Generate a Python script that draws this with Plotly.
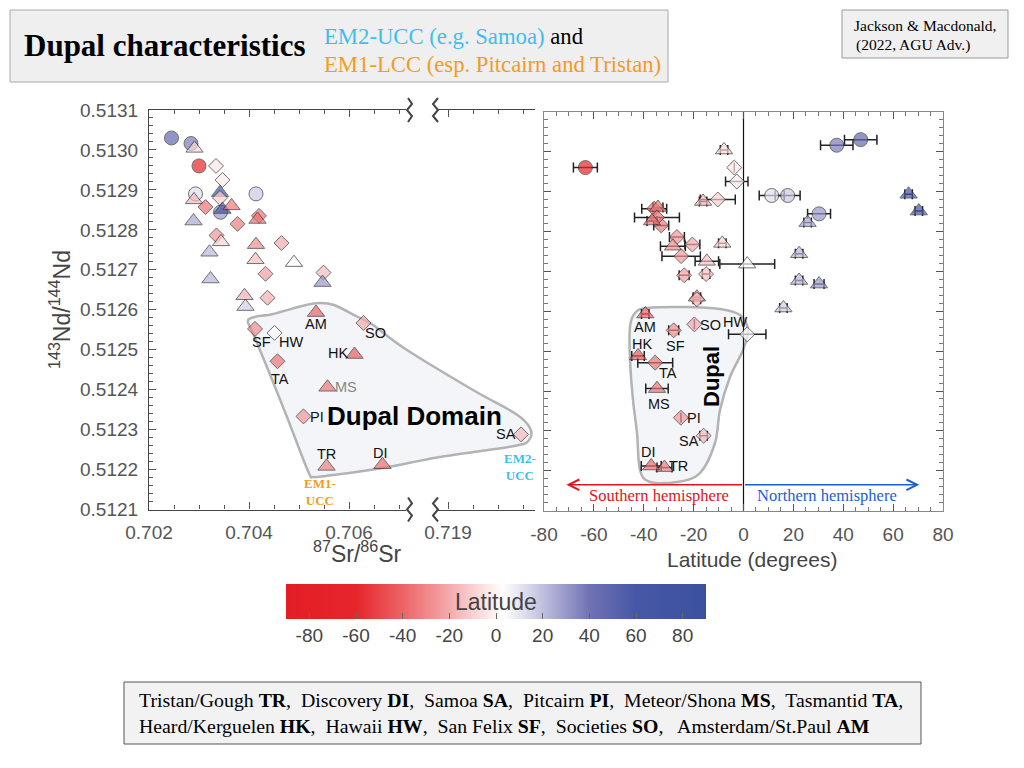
import plotly.graph_objects as go

W, H = 1024, 768


def X(p):
    return p / W


def Y(p):
    return 1 - p / H


# ---------------- data ----------------
sample_code = ["", "", "", "", "", "", "", "", "", "", "", "", "", "", "", "", "", "",
               "", "", "", "", "", "", "", "", "", "", "", "", "", "", "", "",
               "AM", "SO", "SF", "HW", "HK", "TA", "MS", "PI", "SA", "TR", "DI"]
sr_8786 = [0.70245, 0.70284, 0.70291, 0.70300, 0.70334, 0.70347, 0.70293, 0.70414,
           0.70290, 0.70342, 0.70342, 0.70313, 0.70343, 0.70347, 0.70365, 0.70377,
           0.70289, 0.70420, 0.70417, 0.70335, 0.70344, 0.70321, 0.70414, 0.70465,
           0.70413, 0.70490, 0.70323, 0.70433, 0.70549, 0.70547, 0.70391, 0.70437,
           0.70393, None,
           0.70534, 0.70629, 0.70412, 0.70451, 0.70611, 0.70457, 0.70557, 0.70509,
           0.72046, 0.70555, 0.70667]
nd_143144 = [0.513030, 0.513016, 0.513004, 0.512960, 0.512960, 0.512925, 0.512890, 0.512890,
             0.512875, 0.512893, 0.512880, 0.512857, 0.512844, 0.512851, 0.512860, 0.512815,
             0.512822, 0.512835, 0.512826, 0.512786, 0.512770, 0.512744, 0.512763, 0.512767,
             0.512725, 0.512718, 0.512677, 0.512690, 0.512693, 0.512668, 0.512635, 0.512630,
             0.512608, 0.512738,
             0.512593, 0.512567, 0.512552, 0.512542, 0.512488, 0.512471, 0.512406, 0.512333,
             0.512288, 0.512208, 0.512212]
latitude = [47.0, 37.4, -7.8, -63.4, -3.7, -2.7, 11.3, 17.7,
            -16.2, 66.2, -10.3, -35.8, 30.3, 70.3, -34.3, -33.0,
            25.7, -34.7, -36.7, -26.7, -8.5, 22.3, -28.3, -20.5,
            -14.7, 1.5, 22.3, -23.8, -15.0, 30.3, -18.7, -18.7,
            16.0, -25.0,
            -39.4, -19.7, -28.0, 1.5, -42.3, -35.4, -34.7, -25.1,
            -16.0, -31.7, -37.0]
latitude_err = [6.5, 6.5, 1.5, 4.8, 0, 4.5, 5.0, 5.0,
                1.5, 1.5, 7.0, 5.0, 4.6, 1.5, 2.0, 3.0,
                1.5, 9.0, 2.0, 3.0, 1.5, 1.5, 5.0, 3.0,
                4.7, 11.0, 1.5, 2.0, 1.5, 2.0, 1.5, 1.5,
                1.5, 7.7,
                1.5, 0, 2.0, 7.5, 2.5, 7.0, 4.5, 0,
                1.5, 3.0, 4.0]
marker_kind = ["circle", "circle", "triangle-up", "circle", "diamond", "diamond", "circle", "circle",
               "triangle-up", "triangle-up", "diamond", "diamond", "circle", "triangle-up", "triangle-up", "diamond",
               "triangle-up", "diamond", "triangle-up", "diamond", "triangle-up", "triangle-up", "triangle-up", "diamond",
               "triangle-up", "triangle-up", "triangle-up", "diamond", "diamond", "triangle-up", "triangle-up", "diamond",
               "triangle-up", "diamond",
               "triangle-up", "diamond", "diamond", "diamond", "triangle-up", "diamond", "triangle-up", "diamond",
               "diamond", "triangle-up", "triangle-up"]

y_ticks = [0.5121, 0.5122, 0.5123, 0.5124, 0.5125, 0.5126, 0.5127, 0.5128, 0.5129, 0.5130, 0.5131]
sr_ticks_left = [0.702, 0.704, 0.706]
sr_ticks_right = [0.719]
lat_ticks = [-80, -60, -40, -20, 0, 20, 40, 60, 80]

# ---------------- styles ----------------
SANS = "Liberation Sans, Arial, sans-serif"
SERIF = "Liberation Serif, Times New Roman, serif"
size_of = {"circle": 14, "triangle-up": 15, "diamond": 11.5}
colorscale = [
    [0.0, "#e41d25"], [0.1667, "#e6262c"], [0.2778, "#ec6466"], [0.3889, "#f4aaac"],
    [0.4722, "#fbe3e3"], [0.5167, "#ffffff"], [0.6111, "#c0c0df"], [0.7222, "#7072b4"],
    [0.8333, "#4757a5"], [1.0, "#3a51a0"],
]
mk_line = dict(color="#333333", width=1)

fig = go.Figure()

n = len(nd_143144)
left_idx = [i for i in range(n) if sr_8786[i] is not None and sr_8786[i] < 0.71]
right_idx = [i for i in range(n) if sr_8786[i] is not None and sr_8786[i] > 0.71]


def pick(arr, idx):
    return [arr[i] for i in idx]


for idx, xa in ((left_idx, "x"), (right_idx, "x2")):
    fig.add_trace(go.Scatter(
        x=pick(sr_8786, idx), y=pick(nd_143144, idx), mode="markers",
        xaxis=xa, yaxis="y", showlegend=False, cliponaxis=False,
        marker=dict(symbol=pick(marker_kind, idx), size=[size_of[s] for s in pick(marker_kind, idx)],
                    color=pick(latitude, idx), coloraxis="coloraxis", line=mk_line),
    ))

fig.add_trace(go.Scatter(
    x=latitude, y=nd_143144, mode="markers", xaxis="x3", yaxis="y2", showlegend=False,
    error_x=dict(type="data", array=[e if e > 0 else None for e in latitude_err],
                 color="#222222", thickness=1.5, width=5),
    marker=dict(symbol=marker_kind, size=[size_of[s] for s in marker_kind],
                color=latitude, coloraxis="coloraxis", line=mk_line),
))

# ---------------- axes ----------------
common = dict(showgrid=False, zeroline=False, ticks="inside", ticklen=7, tickwidth=1,
              tickcolor="#555", showline=True, linewidth=1.2, automargin=False,
              tickfont=dict(family=SANS, size=19, color="#555"))

fig.update_layout(
    width=W, height=H, margin=dict(l=0, r=0, t=0, b=0, pad=0, autoexpand=False),
    paper_bgcolor="white", plot_bgcolor="rgba(0,0,0,0)",
    xaxis=dict(domain=[X(149), X(406)], range=[0.702, 0.70714], anchor="y",
               tickvals=sr_ticks_left, ticktext=[f"{v:.3f}" for v in sr_ticks_left],
               mirror="ticks", linecolor="#444", ticklabelstandoff=6,
               minor=dict(dtick=0.0005, tick0=0.702, ticks="inside", ticklen=4, tickcolor="#555"),
               **common),
    xaxis2=dict(domain=[X(438), X(535)], range=[0.7188, 0.72074], anchor="y",
                tickvals=sr_ticks_right, ticktext=[f"{v:.3f}" for v in sr_ticks_right],
                mirror="ticks", linecolor="#444", ticklabelstandoff=6,
                minor=dict(dtick=0.0005, tick0=0.719, ticks="inside", ticklen=4, tickcolor="#555"),
                **common),
    yaxis=dict(domain=[Y(509.5), Y(110)], range=[0.5121, 0.5131], anchor="x",
               tickvals=y_ticks, ticktext=[f"{v:.4f}" for v in y_ticks],
               linecolor="#444", ticklabelstandoff=6,
               minor=dict(dtick=0.00002, tick0=0.5121, ticks="inside", ticklen=4, tickcolor="#555"),
               **common),
    xaxis3=dict(domain=[X(544), X(943)], range=[-80, 80], anchor="y2",
                tickvals=lat_ticks, ticktext=[str(v) for v in lat_ticks],
                mirror="ticks", linecolor="#888", ticklabelstandoff=6,
                minor=dict(dtick=5, tick0=0, ticks="inside", ticklen=4, tickcolor="#777"),
                **common),
    yaxis2=dict(domain=[Y(510.7), Y(111.7)], range=[0.5121, 0.5131], anchor="x3",
                tickvals=y_ticks, showticklabels=False, mirror="ticks", linecolor="#888",
                minor=dict(dtick=0.00002, tick0=0.5121, ticks="inside", ticklen=4, tickcolor="#777"),
                **common),
    coloraxis=dict(
        cmin=-90, cmax=90, colorscale=colorscale,
        colorbar=dict(orientation="h", x=X(496), xanchor="center", len=420 / W, lenmode="fraction",
                      y=Y(584), yanchor="top", thickness=35, thicknessmode="pixels",
                      xpad=0, ypad=0, outlinewidth=0, ticks="inside", ticklen=6, tickcolor="#666",
                      tickvals=lat_ticks, ticktext=[str(v) for v in lat_ticks],
                      tickfont=dict(family=SANS, size=19, color="#444")),
    ),
)

# ---------------- shapes ----------------
shapes = []


def smooth_path(pts):
    m = len(pts)
    d = f"M{X(pts[0][0]):.5f},{Y(pts[0][1]):.5f}"
    for i in range(m):
        p0, p1, p2, p3 = pts[i - 1], pts[i], pts[(i + 1) % m], pts[(i + 2) % m]
        c1 = (p1[0] + (p2[0] - p0[0]) / 6, p1[1] + (p2[1] - p0[1]) / 6)
        c2 = (p2[0] - (p3[0] - p1[0]) / 6, p2[1] - (p3[1] - p1[1]) / 6)
        d += (f" C{X(c1[0]):.5f},{Y(c1[1]):.5f} {X(c2[0]):.5f},{Y(c2[1]):.5f}"
              f" {X(p2[0]):.5f},{Y(p2[1]):.5f}")
    return d + " Z"


def poly_path(pts):
    return "M" + " L".join(f"{X(a):.5f},{Y(b):.5f}" for a, b in pts)


# boxes
shapes.append(dict(type="rect", xref="paper", yref="paper", x0=X(10), x1=X(668), y0=Y(82), y1=Y(10),
                   fillcolor="#efefef", line=dict(color="#aaaaaa", width=1), layer="below"))
shapes.append(dict(type="rect", xref="paper", yref="paper", x0=X(842), x1=X(1008), y0=Y(58), y1=Y(10),
                   fillcolor="#f0f0f0", line=dict(color="#999999", width=1), layer="below"))
shapes.append(dict(type="rect", xref="paper", yref="paper", x0=X(124), x1=X(921), y0=Y(744), y1=Y(682),
                   fillcolor="#f2f2f2", line=dict(color="#555555", width=1), layer="below"))

# Dupal domain outlines
left_dupal = [(249, 319), (273, 314), (306, 305), (320, 303), (334, 305), (356, 316), (373, 325),
              (407, 350), (473, 390), (516, 414), (530, 428), (529, 440), (514, 446), (440, 457),
              (383, 468), (333, 475), (314, 477), (308, 471), (287, 417), (267, 367), (253, 333)]
right_dupal = [(635, 313), (647, 308), (687, 307), (720, 309), (740, 315), (748, 330), (743, 350),
               (730, 377), (720, 410), (715, 443), (700, 473), (677, 482), (650, 482), (640, 470),
               (637, 433), (633, 400), (630, 360), (630, 327)]
for pts in (left_dupal, right_dupal):
    shapes.append(dict(type="path", xref="paper", yref="paper", path=smooth_path(pts),
                       fillcolor="#f3f5f8", line=dict(color="#b3b3b3", width=2.5), layer="below"))

# axis break marks
for yb in (110, 509.5):
    zl = [(408, yb - 12), (412, yb - 6), (407, yb), (412, yb + 6), (408, yb + 12)]
    zr = [(438, yb - 12), (433, yb - 6), (438, yb), (433, yb + 6), (438, yb + 12)]
    for z in (zl, zr):
        shapes.append(dict(type="path", xref="paper", yref="paper", path=poly_path(z),
                           line=dict(color="#444444", width=2)))

# equator line
shapes.append(dict(type="line", xref="x3", yref="y2 domain", x0=0, x1=0, y0=0, y1=1,
                   line=dict(color="#111111", width=1.2), layer="below"))

fig.update_layout(shapes=shapes)

# ---------------- annotations ----------------
ann = []


def txt(x, y, text, size, color="#000", family=SANS, xanchor="center", **kw):
    ann.append(dict(xref="paper", yref="paper", x=X(x), y=Y(y), text=text, showarrow=False,
                    xanchor=xanchor, yanchor="middle",
                    font=dict(family=family, size=size, color=color), **kw))


txt(22, 45, "<b>Dupal characteristics</b>", 31, family=SERIF, xanchor="left")
txt(322, 36, "<span style='color:#3cbfef'>EM2-UCC (e.g. Samoa)</span> and", 22.7, family=SERIF, xanchor="left")
txt(322, 64, "EM1-LCC (esp. Pitcairn and Tristan)", 22.7, color="#f39c1f", family=SERIF, xanchor="left")
txt(925, 25, "Jackson &amp; Macdonald,", 15.5, family=SERIF)
txt(913, 45, "(2022, AGU Adv.)", 15.5, family=SERIF)
txt(137, 713, "Tristan/Gough <b>TR</b>,  Discovery <b>DI</b>,  Samoa <b>SA</b>,  Pitcairn <b>PI</b>,  "
              "Meteor/Shona <b>MS</b>,  Tasmantid <b>TA</b>,<br>"
              "Heard/Kerguelen <b>HK</b>,  Hawaii <b>HW</b>,  San Felix <b>SF</b>,  Societies <b>SO</b>,   "
              "Amsterdam/St.Paul <b>AM</b>", 19.8, family=SERIF, xanchor="left", align="left")

txt(60, 310, "<sup>143</sup>Nd/<sup>144</sup>Nd", 23, color="#444", textangle=-90)
txt(357, 552, "<sup>87</sup>Sr/<sup>86</sup>Sr", 23, color="#444")
txt(752, 559, "Latitude (degrees)", 21, color="#444")
txt(496, 602, "Latitude", 23, color="#444")

txt(414, 416, "<b>Dupal Domain</b>", 26)
txt(711, 377, "<b>Dupal</b>", 22, textangle=-90)
txt(520, 467, "<b>EM2-<br>UCC</b>", 13, color="#3cbfef", family=SERIF)
txt(320, 492, "<b>EM1-<br>UCC</b>", 13, color="#f39c1f", family=SERIF)

txt(659, 495, "Southern hemisphere", 16.5, color="#e0141e", family=SERIF)
txt(827, 495, "Northern hemisphere", 16.5, color="#1a5fd6", family=SERIF)

arrow_nd = 0.512165
ann.append(dict(xref="x3", yref="y2", axref="x3", ayref="y2", x=-71, y=arrow_nd, ax=0, ay=arrow_nd,
                text="", showarrow=True, arrowhead=5, arrowsize=1.6, arrowwidth=1.3, arrowcolor="#e0141e"))
ann.append(dict(xref="x3", yref="y2", axref="x3", ayref="y2", x=70.5, y=arrow_nd, ax=0, ay=arrow_nd,
                text="", showarrow=True, arrowhead=5, arrowsize=1.6, arrowwidth=1.3, arrowcolor="#1a5fd6"))

# point labels (offsets in pixels)
left_label_shift = {"AM": (0, -11), "SO": (12, -10), "SF": (6, -13), "HW": (16, -9), "HK": (-17, 1),
                    "TA": (2, -18), "MS": (18, 0), "PI": (13, -1), "SA": (-15, 0), "TR": (0, 12),
                    "DI": (-2, 12)}
right_label_shift = {"AM": (0, -13), "SO": (16, -1), "SF": (2, -16), "HW": (-12, 12), "HK": (4, 12),
                     "TA": (13, -10), "MS": (2, -15), "PI": (13, 0), "SA": (-15, -5), "TR": (14, 2),
                     "DI": (-3, 14)}
for i, code in enumerate(sample_code):
    if not code:
        continue
    col = "#888888" if code == "MS" else "#111111"
    dx, dy = left_label_shift[code]
    ann.append(dict(xref="x2" if sr_8786[i] > 0.71 else "x", yref="y", x=sr_8786[i], y=nd_143144[i],
                    text=code, showarrow=False, xshift=dx, yshift=dy,
                    font=dict(family=SANS, size=14.5, color=col)))
    dx, dy = right_label_shift[code]
    ann.append(dict(xref="x3", yref="y2", x=latitude[i], y=nd_143144[i], text=code, showarrow=False,
                    xshift=dx, yshift=dy, font=dict(family=SANS, size=14.5, color="#111111")))

fig.update_layout(annotations=ann)
fig.write_html("out.html", config={"displayModeBar": False},
               post_script="document.body.style.margin='0';")
